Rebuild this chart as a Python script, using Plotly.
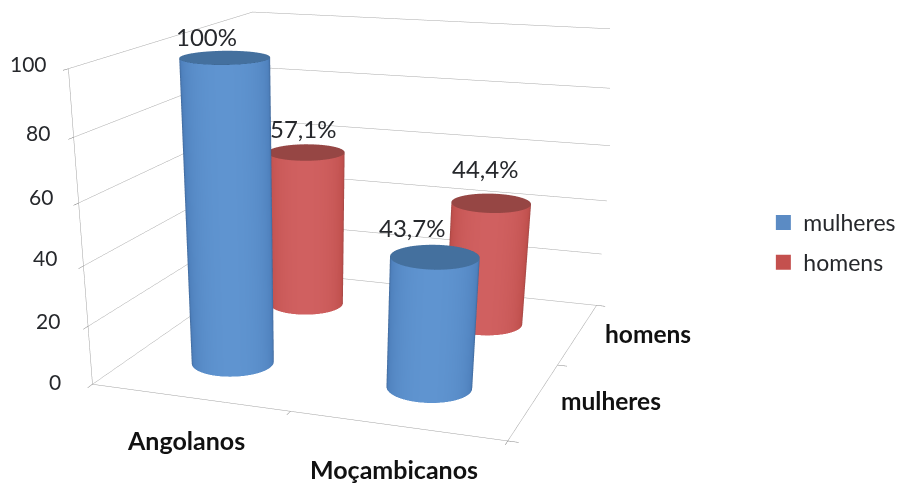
import numpy as np
import plotly.graph_objects as go

categories = ["Angolanos", "Moçambicanos"]
series = ["mulheres", "homens"]
mulheres = [100, 43.7]
homens = [57.1, 44.4]
mulheres_labels = ["100%", "43,7%"]
homens_labels = ["57,1%", "44,4%"]
z_ticks = [0, 20, 40, 60, 80, 100]

# Label nudges in pixels, kept apart from the values
z_label_dx = [-29.5, -26.5, -24.5, -23.5, -21.5, -19.5]
z_label_dy = [3, 6, 8, 6, 5, 5]
data_label_shift = [[(-18, 21), (-23, 29)], [(-3, 24), (-6, 35)]]

# A Plotly scene always uses a 45 degree lens centred on its domain. The tall figure
# gives the long lens of the original; the window shows only its top 483 pixels.
FIG_H = 1200
eye = dict(x=1.6252, y=-4.9549, z=1.2336)
center = dict(x=0.1438, y=-0.9659, z=-1.1233)
up = dict(x=0, y=0, z=1)
aspect = dict(x=1.4671, y=1.5099, z=1.0347)

BLUE = dict(edge="#30507A", mid="#4F81BD", light="#5F94D0", top="#44709E", legend="#5B8BC4")
RED = dict(edge="#843C3A", mid="#C0504D", light="#D06060", top="#964644", legend="#C4504E")
FONT = "Lato, Carlito, Calibri, sans-serif"
TEXT = "#26282c"
R = 0.2


def cylinder(cx, cy, v, col):
    th = np.linspace(0, 2 * np.pi, 121)
    A, B = aspect["x"] / 2, aspect["y"] / 2
    dx, dy = eye["x"] - A * (cx - 1), eye["y"] - B * (cy - 1)
    tt, zz = np.meshgrid(th, np.array([0.0, v]))
    nx, ny = np.cos(tt) / A, np.sin(tt) / B
    ndv = (nx * dx + ny * dy) / (np.hypot(nx, ny) * np.hypot(dx, dy))
    shade = np.clip(ndv, 0, 1) ** 0.7
    scale = [[0, col["edge"]], [0.45, col["mid"]], [1, col["light"]]]
    light = dict(ambient=1, diffuse=0, specular=0, fresnel=0, roughness=1)
    side = go.Surface(x=cx + R * np.cos(tt), y=cy + R * np.sin(tt), z=zz, surfacecolor=shade,
                      colorscale=scale, cmin=0, cmax=1, showscale=False, hoverinfo="skip", lighting=light)
    rr, tc = np.meshgrid(np.array([0.0, 1.0]), th)
    cap = go.Surface(x=cx + R * rr * np.cos(tc), y=cy + R * rr * np.sin(tc), z=np.full_like(rr, v),
                     surfacecolor=np.zeros_like(rr), colorscale=[[0, col["top"]], [1, col["top"]]],
                     cmin=0, cmax=1, showscale=False, hoverinfo="skip", lighting=light)
    return [side, cap]


fig = go.Figure()
anns = []
for j, (vals, labs, col) in enumerate([(mulheres, mulheres_labels, BLUE), (homens, homens_labels, RED)]):
    for i, (v, lab) in enumerate(zip(vals, labs)):
        fig.add_traces(cylinder(i + 0.5, j + 0.5, v, col))
        anns.append(dict(x=i + 0.5, y=j + 0.5, z=v, text=lab, showarrow=False,
                         xshift=data_label_shift[j][i][0], yshift=data_label_shift[j][i][1],
                         font=dict(family=FONT, size=24, color=TEXT)))
for name, col in zip(series, [BLUE, RED]):
    fig.add_trace(go.Scatter3d(x=[None], y=[None], z=[None], mode="markers", name=name, legendgroup=name,
                               marker=dict(symbol="square", size=15, color=col["legend"])))
for v, dx, dy in zip(z_ticks, z_label_dx, z_label_dy):
    anns.append(dict(x=0, y=0, z=v, text=str(v), showarrow=False, xanchor="right", xshift=dx, yshift=dy,
                     font=dict(family=FONT, size=21, color=TEXT)))
for i, c_ in enumerate(categories):
    anns.append(dict(x=i + 0.5, y=0, z=0, text=f"<b>{c_}</b>", showarrow=False, xshift=-3, yshift=-43,
                     font=dict(family=FONT, size=25, color="#111")))
for j, s in enumerate(series):
    anns.append(dict(x=2, y=j + 0.5, z=0, text=f"<b>{s}</b>", showarrow=False, xanchor="left", xshift=25, yshift=0,
                     font=dict(family=FONT, size=24.5, color="#111")))

ax = dict(showbackground=False, showspikes=False, showticklabels=False, showline=True, linecolor="#a0a0a0",
          linewidth=1, ticks="outside", ticklen=8, tickcolor="#777777", zeroline=False, title=dict(text=""))
fig.update_layout(
    width=903, height=FIG_H, margin=dict(l=0, r=0, t=0, b=0), paper_bgcolor="white",
    font=dict(family=FONT, color=TEXT),
    legend=dict(x=0.8365, y=1 - 234.5 / FIG_H, xanchor="left", yanchor="middle",
                font=dict(family=FONT, size=23, color=TEXT), tracegroupgap=7, bgcolor="rgba(0,0,0,0)"),
    scene=dict(
        domain=dict(x=[0, 602 / 903], y=[0, 1]),
        xaxis=dict(ax, range=[0, 2], tickvals=[0, 1, 2], showgrid=False),
        yaxis=dict(ax, range=[0, 2], tickvals=[0, 1, 2], showgrid=False),
        zaxis=dict(ax, range=[0, 100], tickvals=z_ticks, showgrid=True, gridcolor="#a8a8a8", gridwidth=1),
        aspectmode="manual", aspectratio=aspect,
        camera=dict(eye=eye, center=center, up=up, projection=dict(type="perspective")),
        annotations=anns,
        bgcolor="white",
    ),
)
fig.write_html("out.html")
